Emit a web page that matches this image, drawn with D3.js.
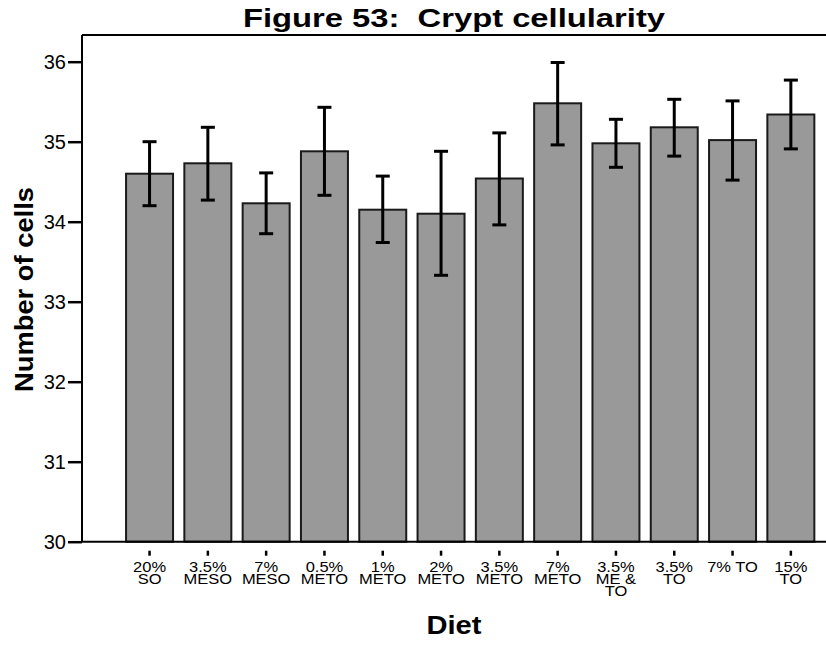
<!DOCTYPE html>
<html>
<head>
<meta charset="utf-8">
<script src="https://cdn.jsdelivr.net/npm/d3@7"></script>
<style>
  html, body { margin: 0; padding: 0; background: #fff; }
  svg { display: block; font-family: "Liberation Sans", Arial, sans-serif; }
</style>
</head>
<body>
<svg id="chart" width="826" height="648"></svg>
<script>
const categories = ["20% SO", "3.5% MESO", "7% MESO", "0.5% METO", "1% METO", "2% METO",
                    "3.5% METO", "7% METO", "3.5% ME & TO", "3.5% TO", "7% TO", "15% TO"];
const labelLines = [["20%", "SO"], ["3.5%", "MESO"], ["7%", "MESO"], ["0.5%", "METO"], ["1%", "METO"],
                    ["2%", "METO"], ["3.5%", "METO"], ["7%", "METO"], ["3.5%", "ME &", "TO"],
                    ["3.5%", "TO"], ["7% TO"], ["15%", "TO"]];
const means    = [34.60, 34.73, 34.23, 34.88, 34.15, 34.10, 34.54, 35.48, 34.98, 35.18, 35.02, 35.34];
const errLow   = [34.20, 34.27, 33.85, 34.33, 33.74, 33.33, 33.96, 34.96, 34.68, 34.82, 34.52, 34.91];
const errHigh  = [35.00, 35.18, 34.61, 35.43, 34.57, 34.88, 35.11, 35.99, 35.28, 35.53, 35.51, 35.77];
const yTicks   = [30, 31, 32, 33, 34, 35, 36];

const data = categories.map((c, i) => ({c, lines: labelLines[i], m: means[i], lo: errLow[i], hi: errHigh[i]}));

const svg = d3.select("#chart");
const frameLeft = 82, frameTop = 35, frameRight = 826;
const y = d3.scaleLinear().domain([30, 36]).range([541.7, 61.7]);
const x = d3.scaleBand().domain(categories).range([120.4, 820]).paddingInner(0.194).paddingOuter(0.097);

// frame lines
svg.append("line").attr("x1", frameLeft).attr("x2", frameRight).attr("y1", frameTop).attr("y2", frameTop)
  .attr("stroke", "#000").attr("stroke-width", 2);
svg.append("line").attr("x1", frameLeft).attr("x2", frameLeft).attr("y1", frameTop).attr("y2", y(30))
  .attr("stroke", "#000").attr("stroke-width", 2);

// bars
svg.append("g").selectAll("rect").data(data).join("rect")
  .attr("x", d => x(d.c)).attr("width", x.bandwidth())
  .attr("y", d => y(d.m)).attr("height", d => y(30) - y(d.m))
  .attr("fill", "#999999").attr("stroke", "#1a1a1a").attr("stroke-width", 2);

// bottom axis line
svg.append("line").attr("x1", frameLeft).attr("x2", frameRight).attr("y1", y(30)).attr("y2", y(30))
  .attr("stroke", "#000").attr("stroke-width", 2);

// error bars
const eb = svg.append("g").attr("stroke", "#000").attr("stroke-width", 3);
data.forEach(d => {
  const cx = x(d.c) + x.bandwidth() / 2;
  eb.append("line").attr("x1", cx).attr("x2", cx).attr("y1", y(d.lo)).attr("y2", y(d.hi));
  eb.append("line").attr("x1", cx - 7).attr("x2", cx + 7).attr("y1", y(d.lo)).attr("y2", y(d.lo));
  eb.append("line").attr("x1", cx - 7).attr("x2", cx + 7).attr("y1", y(d.hi)).attr("y2", y(d.hi));
});

// y axis
const yAxis = svg.append("g").attr("transform", `translate(${frameLeft},0)`)
  .call(d3.axisLeft(y).tickValues(yTicks).tickSize(14).tickPadding(2).tickFormat(d3.format("d")));
yAxis.select(".domain").remove();
yAxis.selectAll(".tick line").attr("stroke", "#000").attr("stroke-width", 2.5);
yAxis.selectAll(".tick text").attr("font-size", 20).attr("fill", "#000")
  .attr("font-family", "Liberation Sans, Arial, sans-serif");

// x axis ticks and labels
const xAxis = svg.append("g").attr("transform", `translate(0,${y(30) + 9})`)
  .call(d3.axisBottom(x).tickSize(5).tickFormat(""));
xAxis.select(".domain").remove();
xAxis.selectAll(".tick line").attr("stroke", "#000").attr("stroke-width", 2.5);

const xl = svg.append("g").attr("font-size", 15).attr("text-anchor", "middle").attr("fill", "#000");
data.forEach(d => {
  const cx = x(d.c) + x.bandwidth() / 2;
  const g = xl.append("g").attr("transform", `translate(${cx},0) scale(1.1,1)`);
  d.lines.forEach((ln, k) => g.append("text").attr("x", 0).attr("y", 572 + k * 12).text(ln));
});

// titles
svg.append("text").attr("x", 454).attr("y", 27).attr("text-anchor", "middle")
  .style("white-space", "pre")
  .attr("font-size", 25).attr("font-weight", "bold")
  .attr("textLength", 422).attr("lengthAdjust", "spacingAndGlyphs")
  .text("Figure 53:  Crypt cellularity");
svg.append("text").attr("x", 454).attr("y", 634).attr("text-anchor", "middle")
  .attr("font-size", 26).attr("font-weight", "bold")
  .attr("textLength", 55).attr("lengthAdjust", "spacingAndGlyphs").text("Diet");
svg.append("text").attr("transform", "translate(33,289.5) rotate(-90)").attr("text-anchor", "middle")
  .attr("font-size", 25).attr("font-weight", "bold")
  .attr("textLength", 205).attr("lengthAdjust", "spacingAndGlyphs").text("Number of cells");
</script>
</body>
</html>
